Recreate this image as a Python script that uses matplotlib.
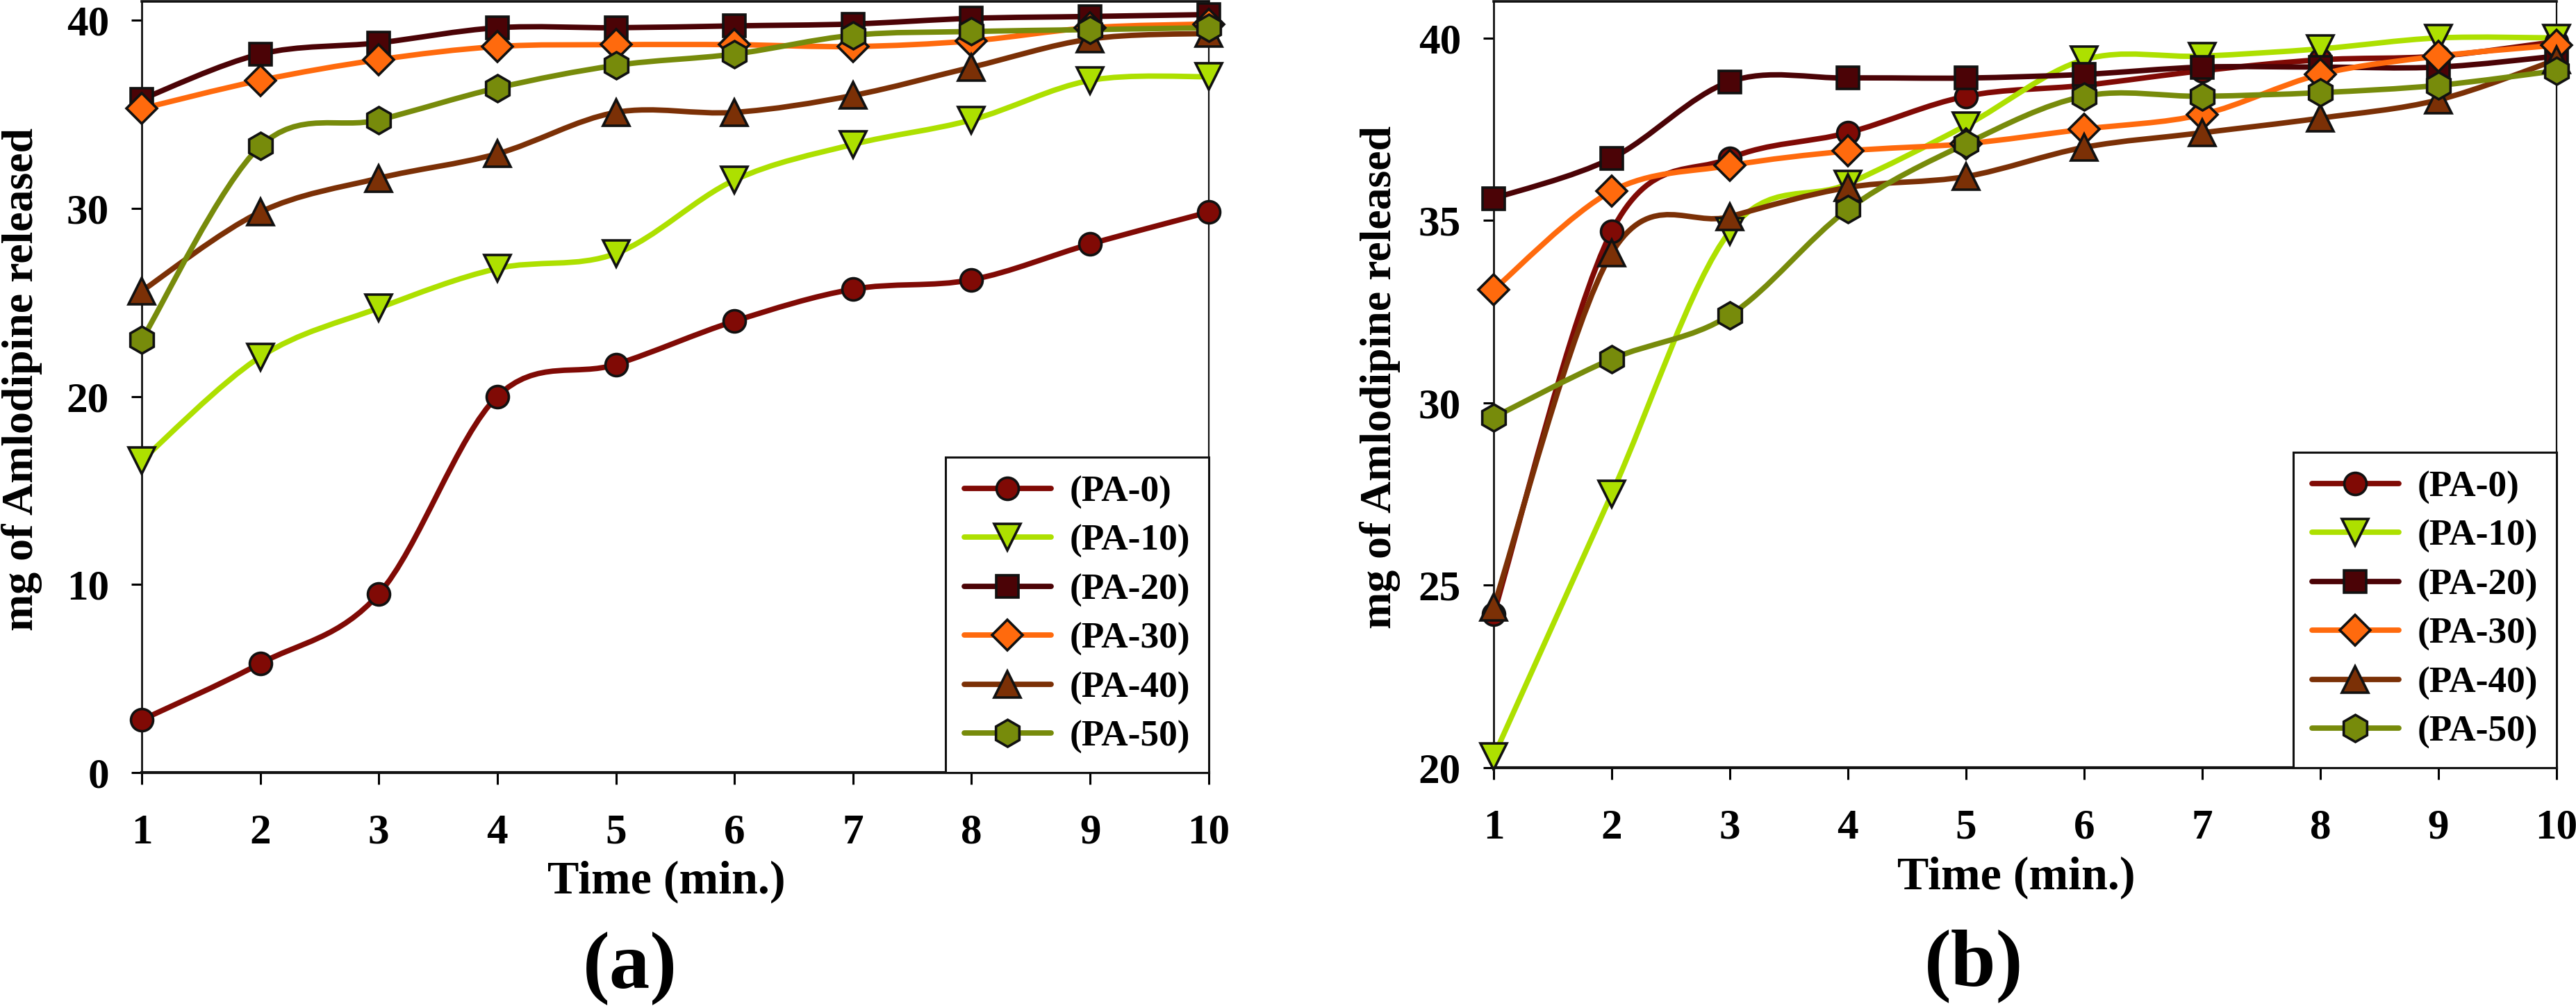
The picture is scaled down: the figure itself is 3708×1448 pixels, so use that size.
"""
Amlodipine release profiles, panels (a) and (b), smoothed lines like the Excel original.
"""

import matplotlib
matplotlib.use('Agg')
import matplotlib.pyplot as plt
from matplotlib.path import Path
from matplotlib.patches import PathPatch
from matplotlib.lines import Line2D

plt.rcParams['font.family'] = 'Liberation Serif'
plt.rcParams['font.weight'] = 'bold'

# --- data -------------------------------------------------------------
time_min = [1, 2, 3, 4, 5, 6, 7, 8, 9, 10]
labels = ['(PA-0)', '(PA-10)', '(PA-20)', '(PA-30)', '(PA-40)', '(PA-50)']

# panel (a)
a_pa0 = [2.8, 5.8, 9.5, 20.0, 21.7, 24.0, 25.7, 26.2, 28.1, 29.8]
a_pa10 = [16.6, 22.1, 24.7, 26.8, 27.6, 31.5, 33.4, 34.7, 36.8, 37.0]
a_pa20 = [35.8, 38.2, 38.8, 39.6, 39.6, 39.7, 39.8, 40.1, 40.2, 40.3]
a_pa30 = [35.3, 36.8, 37.9, 38.6, 38.7, 38.7, 38.6, 38.9, 39.6, 39.8]
a_pa40 = [25.6, 29.8, 31.6, 32.9, 35.1, 35.1, 36.0, 37.5, 39.0, 39.3]
a_pa50 = [23.0, 33.3, 34.7, 36.4, 37.6, 38.2, 39.2, 39.4, 39.5, 39.6]

# panel (b)
b_pa0 = [24.2, 34.7, 36.7, 37.4, 38.4, 38.7, 39.1, 39.4, 39.5, 39.9]
b_pa10 = [20.3, 27.5, 34.7, 36.0, 37.6, 39.4, 39.5, 39.7, 40.0, 40.0]
b_pa20 = [35.6, 36.7, 38.8, 38.9, 38.9, 39.0, 39.2, 39.2, 39.2, 39.5]
b_pa30 = [33.1, 35.8, 36.5, 36.9, 37.1, 37.5, 37.9, 39.0, 39.5, 39.8]
b_pa40 = [24.4, 34.1, 35.1, 35.9, 36.2, 37.0, 37.4, 37.8, 38.3, 39.4]
b_pa50 = [29.6, 31.2, 32.4, 35.3, 37.1, 38.4, 38.4, 38.5, 38.7, 39.1]

# --- style ------------------------------------------------------------
colors = ['#800A05', '#ADE000', '#4B0306', '#FF6A0D', '#7B3006', '#778B0B']
markers = ['o', 'v', 's', 'D', '^', 'h']
msizes = [11.5, 13.5, 11.5, 11, 13.5, 14]
LW = 2.8


def smooth_path(x, y):
    """Excel-like smoothed line: Catmull-Rom segments as cubic Beziers."""
    n = len(x)
    verts = [(x[0], y[0])]
    codes = [Path.MOVETO]
    for i in range(n - 1):
        xp, yp = (x[i - 1], y[i - 1]) if i > 0 else (x[i], y[i])
        xn, yn = (x[i + 2], y[i + 2]) if i + 2 < n else (x[i + 1], y[i + 1])
        c1 = (x[i] + (x[i + 1] - xp) / 6, y[i] + (y[i + 1] - yp) / 6)
        c2 = (x[i + 1] - (xn - x[i]) / 6, y[i + 1] - (yn - y[i]) / 6)
        verts += [c1, c2, (x[i + 1], y[i + 1])]
        codes += [Path.CURVE4] * 3
    return Path(verts, codes)


def draw_panel(ax, series, ylim, yticks, ylabel_x, xlabel_y):
    for y, c in zip(series, colors):
        ax.add_patch(PathPatch(smooth_path(time_min, y), fill=False,
                               edgecolor=c, lw=LW, capstyle='round', zorder=2))
    for y, c, m, ms in zip(series, colors, markers, msizes):
        ax.plot(time_min, y, linestyle='none', marker=m, ms=ms,
                mfc=c, mec='#111111', mew=1.3, zorder=3, clip_on=False)

    ax.set_xlim(1, 10)
    ax.set_ylim(*ylim)
    ax.set_xticks(time_min)
    ax.set_yticks(yticks)
    ax.tick_params(axis='x', direction='out', length=6.1, width=1.1,
                   pad=15, labelsize=22)
    ax.tick_params(axis='y', direction='out', length=5.4, width=1.1,
                   pad=11.5, labelsize=22)
    for lab in ax.get_xticklabels() + ax.get_yticklabels():
        lab.set_fontweight('bold')

    ax.spines['left'].set_linewidth(1.0)
    ax.spines['bottom'].set_linewidth(1.5)
    ax.spines['top'].set_linewidth(1.3)
    ax.spines['right'].set_linewidth(0.8)
    for sp in ax.spines.values():
        sp.set_color('#111111')

    ax.set_ylabel('mg of Amlodipine released', fontsize=23, fontweight='bold')
    ax.yaxis.set_label_coords(ylabel_x, 0.51)
    ax.set_xlabel('Time (min.)', fontsize=24.5, fontweight='bold')
    ax.xaxis.set_label_coords(0.492, xlabel_y)

    handles = [Line2D([], [], color=c, lw=LW, solid_capstyle='round',
                      marker=m, ms=ms, mfc=c, mec='#111111', mew=1.3)
               for c, m, ms in zip(colors, markers, msizes)]
    leg = ax.legend(handles, labels, loc='lower right', bbox_to_anchor=(1, 0),
                    borderaxespad=0, fancybox=False, framealpha=1,
                    edgecolor='#111111', handlelength=2.35,
                    handletextpad=0.5, borderpad=0.5, labelspacing=0.41,
                    prop={'weight': 'bold', 'size': 19.2})
    leg.get_frame().set_linewidth(1.1)
    leg.set_zorder(5)


fig = plt.figure(figsize=(18.54, 7.24), dpi=200)
ax_a = fig.add_axes([0.0550, 0.2320, 0.4142, 0.7666])
ax_b = fig.add_axes([0.5798, 0.2369, 0.4126, 0.7617])

draw_panel(ax_a, [a_pa0, a_pa10, a_pa20, a_pa30, a_pa40, a_pa50],
           (0, 41), [0, 10, 20, 30, 40], -0.093, -0.1135)
draw_panel(ax_b, [b_pa0, b_pa10, b_pa20, b_pa30, b_pa40, b_pa50],
           (20, 41), [20, 25, 30, 35, 40], -0.0876, -0.116)

fig.text(0.0550 + 0.4142 * 0.458, 0.038, '(a)', fontsize=42,
         fontweight='bold', ha='center', va='center')
fig.text(0.5798 + 0.4126 * 0.452, 0.040, '(b)', fontsize=42,
         fontweight='bold', ha='center', va='center')

fig.savefig('out.png', dpi=200, facecolor='white')
print("[OK] Generated: out.png")
